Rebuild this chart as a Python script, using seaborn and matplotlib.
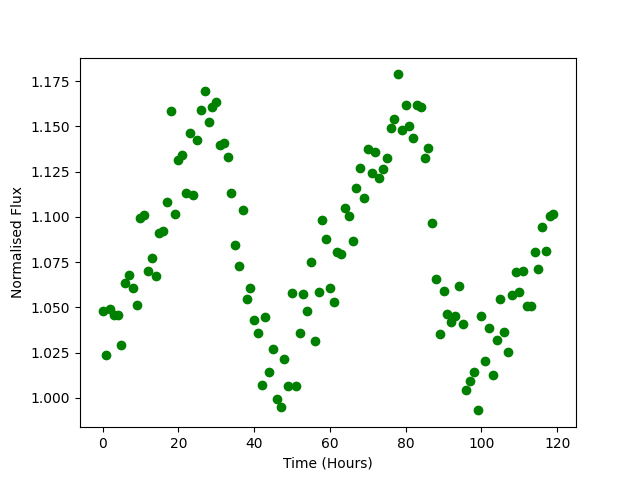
import numpy as np
import pandas as pd
import matplotlib
matplotlib.use("Agg")
import matplotlib.pyplot as plt
import seaborn as sns

# time in hours, one reading per hour
hours = list(range(120))

# normalised flux
flux = [
    1.0481, 1.0238, 1.0493, 1.0455, 1.0459, 1.0289, 1.0636, 1.0676, 1.0604, 1.0510,
    1.0995, 1.1011, 1.0698, 1.0774, 1.0674, 1.0912, 1.0924, 1.1083, 1.1586, 1.1018,
    1.1315, 1.1343, 1.1133, 1.1464, 1.1118, 1.1422, 1.1593, 1.1696, 1.1525, 1.1608,
    1.1632, 1.1398, 1.1409, 1.1328, 1.1133, 1.0845, 1.0729, 1.1039, 1.0543, 1.0608,
    1.0431, 1.0359, 1.0072, 1.0444, 1.0140, 1.0272, 0.9992, 0.9950, 1.0216, 1.0066,
    1.0580, 1.0066, 1.0359, 1.0575, 1.0481, 1.0748, 1.0315, 1.0586, 1.0984, 1.0879,
    1.0604, 1.0530, 1.0803, 1.0796, 1.1046, 1.1006, 1.0868, 1.1160, 1.1271, 1.1105,
    1.1372, 1.1240, 1.1359, 1.1216, 1.1262, 1.1326, 1.1492, 1.1542, 1.1787, 1.1481,
    1.1619, 1.1503, 1.1437, 1.1619, 1.1608, 1.1326, 1.1382, 1.0967, 1.0658, 1.0354,
    1.0591, 1.0464, 1.0418, 1.0451, 1.0619, 1.0409, 1.0044, 1.0094, 1.0140, 0.9930,
    1.0453, 1.0204, 1.0387, 1.0123, 1.0321, 1.0543, 1.0365, 1.0254, 1.0569, 1.0696,
    1.0586, 1.0702, 1.0508, 1.0508, 1.0807, 1.0713, 1.0945, 1.0812, 1.1006, 1.1013,
]

df = pd.DataFrame({"time": hours, "flux": flux})

# create figure
fig, ax = plt.subplots(figsize=(6.4, 4.8), dpi=100)

# green dots like a plain 'go' plot
sns.scatterplot(data=df, x="time", y="flux", color="green", edgecolor="green",
                s=36, linewidth=1.0, ax=ax)

# axis labels
ax.set_xlabel("Time (Hours)")
ax.set_ylabel("Normalised Flux")

plt.savefig("out.png", dpi=100)
